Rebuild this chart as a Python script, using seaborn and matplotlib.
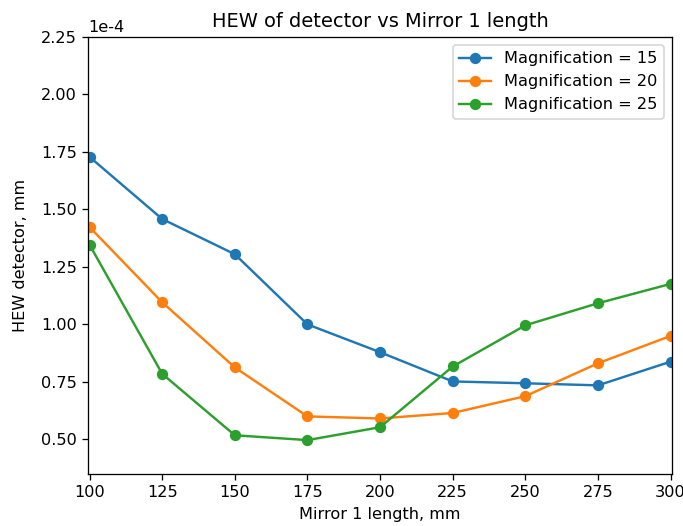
import matplotlib
matplotlib.use("Agg")
import matplotlib.pyplot as plt
import seaborn as sns
import numpy as np
import pandas as pd

plt.rcParams["axes.unicode_minus"] = False

mirror_length = [100, 125, 150, 175, 200, 225, 250, 275, 300]
hew_mag15 = [1.728, 1.458, 1.305, 1.000, 0.879, 0.752, 0.744, 0.735, 0.838]
hew_mag20 = [1.423, 1.096, 0.813, 0.600, 0.591, 0.615, 0.688, 0.831, 0.950]
hew_mag25 = [1.346, 0.785, 0.518, 0.497, 0.553, 0.817, 0.996, 1.092, 1.176]
magnifications = [15, 20, 25]
colors = ["#1f77b4", "#ff7f0e", "#2ca02c"]

DPI = 116
fig, ax = plt.subplots(figsize=(683 / DPI, 526 / DPI), dpi=DPI)
fig.subplots_adjust(left=0.129, right=0.984, top=0.93, bottom=0.099)

for mag, vals, c in zip(magnifications, [hew_mag15, hew_mag20, hew_mag25], colors):
    df = pd.DataFrame({"x": mirror_length, "y": np.array(vals) * 1e-4})
    sns.lineplot(data=df, x="x", y="y", ax=ax, color=c, marker="o",
                 markersize=6, markeredgecolor=c, markeredgewidth=1.0,
                 linewidth=1.5, label=f"Magnification = {mag}")

ax.set_xlim(99.5, 300.5)
ax.set_ylim(0.35e-4, 2.25e-4)
ax.set_xticks([100, 125, 150, 175, 200, 225, 250, 275, 300])
ax.set_yticks(np.arange(0.5, 2.26, 0.25) * 1e-4)
ax.ticklabel_format(style="sci", axis="y", scilimits=(0, 0))
ax.set_xlabel("Mirror 1 length, mm")
ax.set_ylabel("HEW detector, mm", labelpad=8)
ax.set_title("HEW of detector vs Mirror 1 length")
ax.legend(loc="upper right")
fig.savefig("out.png", dpi=DPI)
